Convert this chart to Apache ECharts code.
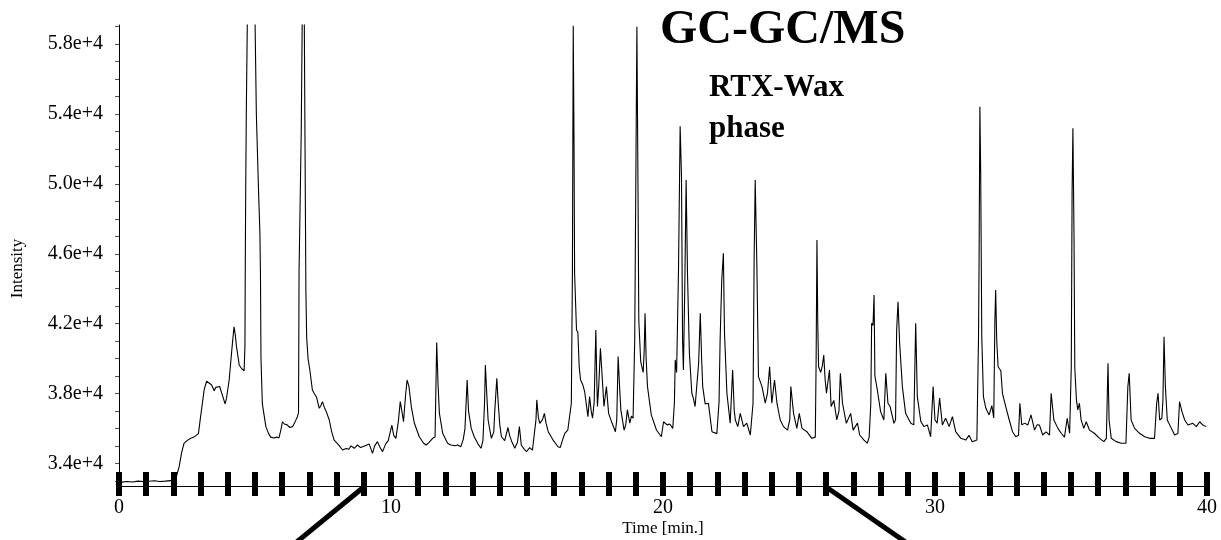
<!DOCTYPE html>
<html>
<head>
<meta charset="utf-8">
<script src="https://cdn.jsdelivr.net/npm/echarts@6/dist/echarts.min.js"></script>
<style>
html,body{margin:0;padding:0;background:#fff;}
#chart{width:1221px;height:540px;}
</style>
</head>
<body>
<div id="chart"></div>
<script>
// ---- data ----
const timeMin = [
0,0.1,0.3,0.5,0.7,0.9,1.1,1.3,1.5,1.7,1.9,2.05,2.12,2.21,2.3,2.39,2.5,2.64,2.75,2.82,2.92,3.0,3.13,3.22,3.29,3.4,3.5,3.56,3.62,3.7,3.8,3.9,3.95,4.05,4.12,4.17,4.23,4.28,4.32,4.42,4.52,4.6,4.63,4.645,4.66,4.68,4.72,4.86,5.0,5.05,5.13,5.18,5.2,5.22,5.27,5.4,5.5,5.58,5.7,5.8,5.88,5.95,6.01,6.08,6.18,6.28,6.38,6.48,6.56,6.6,6.62,6.65,6.7,6.74,6.78,6.81,6.84,6.87,6.9,6.95,7.02,7.11,7.18,7.26,7.36,7.42,7.48,7.55,7.61,7.73,7.82,7.91,8.05,8.22,8.35,8.45,8.53,8.65,8.77,8.88,8.95,9.05,9.2,9.32,9.4,9.5,9.6,9.69,9.8,9.9,10.03,10.1,10.18,10.27,10.34,10.42,10.46,10.53,10.59,10.66,10.75,10.86,11.04,11.2,11.29,11.4,11.53,11.62,11.68,11.73,11.78,11.9,12.08,12.2,12.26,12.35,12.45,12.57,12.66,12.72,12.8,12.85,12.95,13.06,13.2,13.31,13.38,13.44,13.47,13.52,13.57,13.69,13.78,13.81,13.89,13.94,14.0,14.06,14.18,14.3,14.36,14.45,14.55,14.65,14.72,14.79,14.9,14.98,15.1,15.2,15.26,15.33,15.36,15.42,15.47,15.57,15.64,15.7,15.78,15.96,16.14,16.22,16.3,16.39,16.5,16.57,16.63,16.67,16.7,16.73,16.75,16.82,16.87,16.92,16.97,17.05,17.12,17.24,17.3,17.36,17.41,17.47,17.53,17.57,17.59,17.64,17.7,17.76,17.83,17.92,18.0,18.13,18.25,18.3,18.35,18.4,18.45,18.57,18.63,18.69,18.78,18.84,18.9,18.96,19.0,19.04,19.08,19.11,19.18,19.27,19.31,19.34,19.38,19.43,19.57,19.76,19.94,20.02,20.15,20.25,20.36,20.42,20.45,20.5,20.57,20.63,20.68,20.72,20.75,20.8,20.85,20.9,20.97,21.06,21.12,21.18,21.31,21.37,21.42,21.46,21.55,21.67,21.8,21.98,22.06,22.1,22.16,22.22,22.26,22.35,22.47,22.56,22.62,22.66,22.75,22.84,22.96,23.08,23.21,23.31,23.35,23.39,23.45,23.51,23.64,23.76,23.84,23.92,24.0,24.1,24.19,24.31,24.43,24.58,24.66,24.7,24.8,24.92,25.01,25.11,25.29,25.47,25.6,25.63,25.66,25.69,25.72,25.8,25.86,25.91,25.96,26.01,26.12,26.18,26.28,26.39,26.47,26.52,26.6,26.74,26.9,26.99,27.15,27.23,27.39,27.51,27.58,27.64,27.67,27.72,27.76,27.79,27.88,28.0,28.12,28.19,28.27,28.35,28.49,28.55,28.59,28.64,28.7,28.8,28.92,29.11,29.22,29.29,29.35,29.48,29.6,29.72,29.84,29.93,30.0,30.08,30.17,30.27,30.39,30.52,30.64,30.76,30.95,31.13,31.25,31.37,31.54,31.6,31.62,31.65,31.68,31.72,31.78,31.87,31.99,32.09,32.16,32.2,32.23,32.27,32.32,32.42,32.48,32.6,32.73,32.85,32.97,33.07,33.12,33.19,33.3,33.41,33.53,33.66,33.75,33.84,33.96,34.08,34.21,34.27,34.37,34.52,34.64,34.76,34.86,34.95,35.01,35.04,35.07,35.11,35.14,35.2,35.25,35.31,35.37,35.47,35.56,35.68,35.86,36.05,36.21,36.3,36.36,36.4,36.48,36.66,36.85,37.02,37.09,37.14,37.21,37.34,37.52,37.71,37.89,38.07,38.15,38.2,38.26,38.34,38.38,38.42,38.47,38.54,38.66,38.81,38.93,38.99,39.08,39.18,39.3,39.48,39.61,39.73,39.85,39.97
];
const intensity = [
32780,32920,32960,32930,32980,32950,32970,33000,32960,32980,33010,33000,33300,33800,34600,35140,35300,35430,35500,35520,35700,36670,38200,38700,38770,38500,38150,38350,38300,38400,37900,37400,37700,38770,40000,40880,41820,41300,40680,39630,39400,39300,40700,46000,50000,54000,59600,72000,59500,54000,49600,47200,45000,40000,37400,36100,35700,35500,35450,35500,35450,35900,36380,36250,36200,36050,36100,36400,36670,36900,45000,48000,53000,60000,70000,60000,52000,44000,41200,40000,39300,38200,38000,37800,37150,37300,37530,37200,37000,36480,35800,35330,35100,34760,34850,34800,35000,34860,35050,34900,34950,35000,35100,34570,35000,35240,34900,34670,35100,35300,36190,35600,35430,36400,37530,36800,36380,37800,38770,38400,37200,36290,35520,35150,35050,35200,35430,35500,40920,38500,36860,35720,35150,35050,35150,35000,35050,34950,35400,36000,38770,37000,36000,35520,35100,34860,35300,37500,39630,38000,36480,35430,35800,36860,38870,37500,36200,35520,35300,36050,35600,35200,34860,35200,36100,35050,34800,34670,34900,34750,34700,36500,37630,36600,36290,36500,36860,36300,35810,35330,34950,34900,35300,35720,35900,36000,37440,45000,59050,52000,44880,41630,41500,39500,38770,38500,38100,36670,37820,37000,36580,37500,41630,38500,37250,38500,40590,40500,37250,38390,36860,36290,35810,36500,40110,38500,37060,35900,36200,37060,36300,36700,36580,41060,50000,59000,50000,42210,39840,39200,40500,42590,40000,38390,36770,35910,35520,36380,36200,36250,36000,37500,39920,39200,45070,53300,50400,41000,39340,44000,50220,44880,40300,38010,37700,37250,39730,42590,40000,38390,37400,37440,35810,35700,37500,41060,44500,46030,41500,38010,36290,39340,37000,36480,36100,36860,36100,36300,35620,37440,45640,50220,45450,38960,38390,37440,38000,39530,37440,38770,37440,36480,36100,35900,36500,38390,36860,36000,36860,36000,35810,35430,35500,40000,46790,42000,39530,39200,39600,40200,38800,38010,39340,37250,37600,36480,37000,39150,37440,36290,36860,35900,36300,35620,35330,35150,35500,37440,42020,41900,43640,39000,38200,36960,36480,39150,37440,37250,36290,36500,41630,43250,40880,38390,36860,36290,36200,42020,37820,36380,36100,36200,35520,38390,36480,36300,37730,36200,36580,36100,36670,35810,35430,35330,35600,35240,35330,41250,45450,54420,50630,41250,37820,37150,36770,37300,36600,42020,43930,41000,39530,39300,38010,37250,36480,35810,35520,35600,37440,36200,36300,36190,36770,35900,36200,36190,35620,35800,35620,38010,36480,36000,35720,35500,36580,35720,39530,49460,53180,47170,39440,37630,37060,37440,36500,36000,36380,35900,35720,35430,35240,35430,39730,36480,35430,35240,35150,35150,38390,39150,36480,36000,35720,35520,35430,35430,37440,38010,36480,36580,37630,41250,38390,36480,36100,35620,35700,37530,36960,36480,36190,36290,36100,36380,36190,36100
];
const yTickValues = [34000, 38000, 42000, 46000, 50000, 54000, 58000];
const yMinorTicks = [33000,34000,35000,36000,37000,38000,39000,40000,41000,42000,43000,44000,45000,46000,47000,48000,49000,50000,51000,52000,53000,54000,55000,56000,57000,58000,59000];
const xLabelValues = [0, 10, 20, 30, 40];
const zoomFrom = 9, zoomTo = 26;
const titleMain = 'GC-GC/MS';
const titleSub1 = 'RTX-Wax';
const titleSub2 = 'phase';

const series = timeMin.map((t, i) => [t, intensity[i]]);

const chart = echarts.init(document.getElementById('chart'), null, {renderer: 'canvas'});
const SERIF = '"Liberation Serif", "Times New Roman", serif';
const Y_MIN = 32700, Y_MAX = 59100;

chart.setOption({
  animation: false,
  backgroundColor: '#ffffff',
  grid: {left: 119, right: 14, top: 25, bottom: 54, containLabel: false, outerBoundsMode: 'none'},
  xAxis: [{
    type: 'value', min: 0, max: 40, interval: 1,
    name: 'Time [min.]', nameLocation: 'middle', nameGap: 34, nameMoveOverlap: false,
    nameTextStyle: {fontFamily: SERIF, fontSize: 17, color: '#000'},
    axisLine: {show: true, lineStyle: {color: '#000', width: 1}},
    axisTick: {show: true, inside: false, length: 10, lineStyle: {color: '#000', width: 6}},
    axisLabel: {
      margin: 12, fontFamily: SERIF, fontSize: 20, color: '#000',
      formatter: v => xLabelValues.indexOf(v) >= 0 ? String(v) : ''
    },
    splitLine: {show: false}
  }, {
    type: 'value', min: 0, max: 40, interval: 1, position: 'bottom',
    axisLine: {show: false},
    axisTick: {show: true, inside: true, length: 14, lineStyle: {color: '#000', width: 6}},
    axisLabel: {show: false},
    splitLine: {show: false}
  }],
  yAxis: {
    type: 'value', min: Y_MIN, max: Y_MAX,
    name: 'Intensity', nameLocation: 'middle', nameGap: 93, nameMoveOverlap: false,
    nameTextStyle: {fontFamily: SERIF, fontSize: 17, color: '#000', padding: [0, 26, 0, 0]},
    axisLine: {show: true, lineStyle: {color: '#000', width: 1}},
    axisTick: {show: true, length: 4, customValues: yMinorTicks, lineStyle: {color: '#555', width: 1}},
    axisLabel: {
      margin: 16, fontFamily: SERIF, fontSize: 20, color: '#000',
      customValues: yTickValues,
      formatter: v => (v / 10000).toFixed(1) + 'e+4'
    },
    splitLine: {show: false}
  },
  series: [{
    type: 'line', xAxisIndex: 0, data: series, showSymbol: false, symbol: 'none',
    clip: true, lineStyle: {color: '#000', width: 1.1}, silent: true
  }]
});

function drawAnnotations() {
  const p1 = chart.convertToPixel({xAxisIndex: 0, yAxisIndex: 0}, [zoomFrom, Y_MIN]);
  const p2 = chart.convertToPixel({xAxisIndex: 0, yAxisIndex: 0}, [zoomTo, Y_MIN]);
  chart.setOption({
    graphic: [
      {type: 'line', shape: {x1: p1[0], y1: p1[1] + 1, x2: p1[0] - 72, y2: p1[1] + 60},
       style: {stroke: '#000', lineWidth: 5}, z: 10},
      {type: 'line', shape: {x1: p2[0], y1: p2[1] + 1, x2: p2[0] + 85, y2: p2[1] + 60},
       style: {stroke: '#000', lineWidth: 5}, z: 10},
      {type: 'text', left: 660, top: 7, z: 20,
       style: {text: titleMain, font: 'bold 48px ' + SERIF, fill: '#000'}},
      {type: 'text', left: 709, top: 72, z: 20,
       style: {text: titleSub1, font: 'bold 31px ' + SERIF, fill: '#000'}},
      {type: 'text', left: 709, top: 113, z: 20,
       style: {text: titleSub2, font: 'bold 31px ' + SERIF, fill: '#000'}}
    ]
  });
}
drawAnnotations();
</script>
</body>
</html>
